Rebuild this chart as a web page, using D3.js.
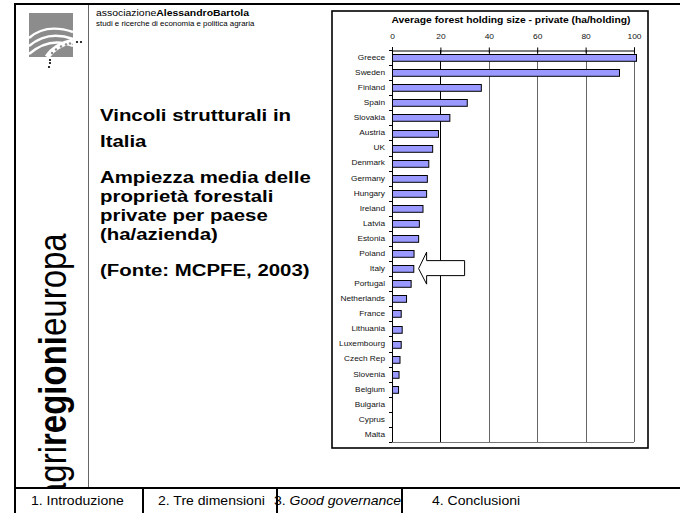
<!DOCTYPE html>
<meta charset="utf-8">
<head>
  <style>
    body { margin: 0; background: #fff; }
    svg { display: block; font-family: "Liberation Sans", Arial, sans-serif; }
    .cat { font-size: 6.9px; fill: #111; }
    .tick text { font-size: 7px; fill: #111; }
    .main { font-weight: bold; fill: #000; }
    .tab { font-size: 13px; fill: #000; }
  </style>
</head>
<body>
<svg id="slide" width="680" height="513"></svg>
<script src="https://cdn.jsdelivr.net/npm/d3@7"></script>
<script>

var countries = ["Greece", "Sweden", "Finland", "Spain", "Slovakia", "Austria", "UK", "Denmark",
  "Germany", "Hungary", "Ireland", "Latvia", "Estonia", "Poland", "Italy", "Portugal",
  "Netherlands", "France", "Lithuania", "Luxembourg", "Czech Rep", "Slovenia", "Belgium",
  "Bulgaria", "Cyprus", "Malta"];
var holdingSize = [101, 93.8, 36.7, 30.9, 23.7, 19.0, 16.6, 15.0,
  14.4, 14.1, 12.6, 11.1, 10.8, 8.9, 8.8, 7.7,
  5.8, 3.6, 4.0, 3.6, 3.1, 2.7, 2.5,
  0, 0, 0];
var xTicks = [0, 20, 40, 60, 80, 100];
var chartTitle = "Average forest holding size - private (ha/holding)";
var tabs = ["1.  Introduzione", "2. Tre dimensioni", "3.  Good governance", "4. Conclusioni"];

var SX = 1.2; // the slide is drawn a bit wider than tall, text looks stretched
var svg = d3.select("#slide");

function stext(parent, x, y, size, sx) {
  return parent.append("text")
    .attr("transform", "translate(" + x + "," + y + ") scale(" + (sx || SX) + ",1)")
    .attr("font-size", size + "px");
}

// ---- slide frame ----
svg.append("line").attr("x1", 14).attr("x2", 680).attr("y1", 4).attr("y2", 4)
  .attr("stroke", "#000").attr("stroke-width", 2);
svg.append("line").attr("x1", 15).attr("x2", 15).attr("y1", 3).attr("y2", 513)
  .attr("stroke", "#000").attr("stroke-width", 2);
svg.append("line").attr("x1", 88.5).attr("x2", 88.5).attr("y1", 5).attr("y2", 488)
  .attr("stroke", "#666").attr("stroke-width", 1);

// ---- logo ----
var logo = svg.append("g");
logo.append("rect").attr("x", 29).attr("y", 13).attr("width", 44).attr("height", 44).attr("fill", "#8c8c8c");
["M29,38 Q46,23 73,32", "M29,46 Q48,30 73,39", "M29,54 Q50,36 73,46"].forEach(function(d) {
  logo.append("path").attr("d", d).attr("fill", "none").attr("stroke", "#fff").attr("stroke-width", 2.4);
});
logo.append("path").attr("d", "M47,57 Q55,45 73,41").attr("fill", "none")
  .attr("stroke", "#fff").attr("stroke-width", 5);
[[52, 53], [56, 49.5], [61, 46.5], [66, 44.5], [70, 43.5]].forEach(function(p) {
  logo.append("circle").attr("cx", p[0]).attr("cy", p[1]).attr("r", 1.2).attr("fill", "#8c8c8c");
});
[[77, 42], [81, 42], [50, 60], [50, 63], [49, 67]].forEach(function(p) {
  logo.append("circle").attr("cx", p[0]).attr("cy", p[1]).attr("r", 1.1).attr("fill", "#000");
});

// header text
var head = stext(svg, 96, 16, 8.7);
head.append("tspan").text("associazione");
head.append("tspan").attr("font-weight", "bold").text("AlessandroBartola");
stext(svg, 96, 26, 6.6).text("studi e ricerche di economia e politica agraria");

// vertical brand
var brand = svg.append("text").attr("transform", "translate(66,501) scale(" + SX + ",1) rotate(-90)")
  .attr("font-size", "33px").attr("fill", "#000");
brand.append("tspan").text("agri");
brand.append("tspan").attr("font-weight", "bold").text("regioni");
brand.append("tspan").text("europa");

// footer covers the overflow of the brand
svg.append("rect").attr("x", 0).attr("y", 489).attr("width", 680).attr("height", 24).attr("fill", "#fff");
svg.append("line").attr("x1", 15).attr("x2", 15).attr("y1", 480).attr("y2", 513)
  .attr("stroke", "#000").attr("stroke-width", 2);
svg.append("line").attr("x1", 14).attr("x2", 680).attr("y1", 488).attr("y2", 488)
  .attr("stroke", "#000").attr("stroke-width", 2);

var tabX = [31, 158, 274, 432];
tabs.forEach(function(t, i) {
  var txt = stext(svg, tabX[i], 505, 13, 1.08).attr("class", "tab");
  if (i == 2) {
    txt.append("tspan").text("3.  ");
    txt.append("tspan").attr("font-style", "italic").text("Good governance");
  } else {
    txt.text(t);
  }
});
[143, 277, 402].forEach(function(x) {
  svg.append("line").attr("x1", x).attr("x2", x).attr("y1", 488).attr("y2", 513)
    .attr("stroke", "#000").attr("stroke-width", 2);
});

// main text
var lines = [
  { t: "Vincoli strutturali in", y: 121 },
  { t: "Italia", y: 147 },
  { t: "Ampiezza media delle", y: 183 },
  { t: "proprietà forestali", y: 202 },
  { t: "private per paese", y: 221 },
  { t: "(ha/azienda)", y: 240 },
  { t: "(Fonte: MCPFE, 2003)", y: 276 }
];
lines.forEach(function(l) {
  stext(svg, 100, l.y, 17).attr("class", "main").text(l.t);
});

// ---- chart ----
svg.append("rect").attr("x", 332).attr("y", 11).attr("width", 316).attr("height", 437)
  .attr("fill", "#fff").attr("stroke", "#000").attr("stroke-width", 1.6);

stext(svg, 511, 23, 8.6).attr("text-anchor", "middle").attr("font-weight", "bold").text(chartTitle);

var x = d3.scaleLinear().domain([0, 100]).range([392, 634]);
var y = d3.scaleBand().domain(countries).range([50, 442]).paddingInner(0.55).paddingOuter(0.275);

var plot = svg.append("g");

// gridlines
plot.selectAll(".grid").data(xTicks.slice(1)).enter().append("line")
  .attr("x1", function(d) { return Math.round(x(d)) + 0.5; })
  .attr("x2", function(d) { return Math.round(x(d)) + 0.5; })
  .attr("y1", 50).attr("y2", 442)
  .attr("stroke", function(d) { return d == 20 ? "#000" : "#666"; }).attr("stroke-width", 1);
plot.append("line").attr("x1", x(0)).attr("x2", x(100)).attr("y1", 442.5).attr("y2", 442.5)
  .attr("stroke", "#777");

// bars
plot.selectAll(".bar").data(countries).enter().append("rect")
  .attr("x", x(0) + 0.5)
  .attr("y", function(d) { return Math.round(y(d)) + 0.5; })
  .attr("width", function(d, i) { return Math.max(0, Math.min(x(holdingSize[i]), 636) - x(0)); })
  .attr("height", y.bandwidth())
  .attr("fill", function(d, i) { return holdingSize[i] > 0 ? "#9999ff" : "none"; })
  .attr("stroke", function(d, i) { return holdingSize[i] > 0 ? "#000" : "none"; })
  .attr("stroke-width", 1);

// top axis
var xAxis = d3.axisTop(x).tickValues(xTicks).tickSize(3).tickPadding(9);
var xg = svg.append("g").attr("transform", "translate(0,50.5)").call(xAxis);
xg.select(".domain").attr("stroke", "#000");
xg.selectAll(".tick line").attr("y2", -3).attr("y1", 3);
xg.selectAll(".tick text").attr("font-family", null).attr("font-size", null)
  .attr("transform", "scale(" + SX + ",1)");

// left axis with ticks between categories
svg.append("line").attr("x1", 392.5).attr("x2", 392.5).attr("y1", 47).attr("y2", 442)
  .attr("stroke", "#000");
var step = y.step();
svg.selectAll(".ytick").data(d3.range(countries.length + 1)).enter().append("line")
  .attr("x1", 389).attr("x2", 392)
  .attr("y1", function(d) { return Math.round(50 + d * step) + 0.5; })
  .attr("y2", function(d) { return Math.round(50 + d * step) + 0.5; })
  .attr("stroke", "#000");

svg.selectAll(".cat").data(countries).enter().append("text")
  .attr("class", "cat")
  .attr("transform", function(d) { return "translate(385," + (y(d) + y.bandwidth() / 2) + ") scale(" + SX + ",1)"; })
  .attr("dy", "0.35em")
  .attr("text-anchor", "end")
  .text(function(d) { return d; });

// arrow pointing at Italy
var ay = y("Italy") + y.bandwidth() / 2;
var ax = x(11);
var arrow = [[ax, ay], [ax + 8, ay - 16.5], [ax + 8, ay - 8], [ax + 46, ay - 8],
  [ax + 46, ay + 7], [ax + 8, ay + 7], [ax + 8, ay + 15.5]];
svg.append("path").attr("d", d3.line()(arrow) + "Z")
  .attr("fill", "#fff").attr("stroke", "#000").attr("stroke-width", 1);

</script>
</body>
